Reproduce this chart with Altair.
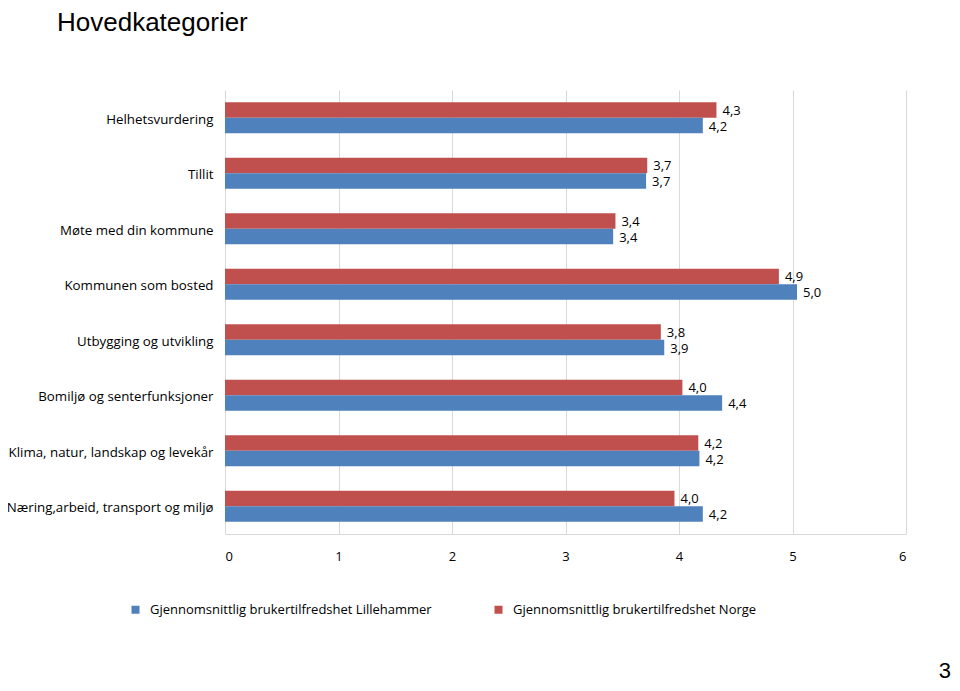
import altair as alt
import pandas as pd

categories = [
    "Helhetsvurdering",
    "Tillit",
    "Møte med din kommune",
    "Kommunen som bosted",
    "Utbygging og utvikling",
    "Bomiljø og senterfunksjoner",
    "Klima, natur, landskap og levekår",
    "Næring,arbeid, transport og miljø",
]
lillehammer = [4.21, 3.71, 3.42, 5.04, 3.87, 4.38, 4.18, 4.21]
norge = [4.33, 3.72, 3.44, 4.88, 3.84, 4.03, 4.17, 3.96]

s_lille = "Gjennomsnittlig brukertilfredshet Lillehammer"
s_norge = "Gjennomsnittlig brukertilfredshet Norge"

FONT = "Open Sans"

rows = []
for c, l, n in zip(categories, lillehammer, norge):
    rows.append({"kategori": c, "serie": s_norge, "verdi": n,
                 "tekst": f"{n:.1f}".replace(".", ",")})
    rows.append({"kategori": c, "serie": s_lille, "verdi": l,
                 "tekst": f"{l:.1f}".replace(".", ",")})
df = pd.DataFrame(rows)

y = alt.Y("kategori:N", sort=categories,
          scale=alt.Scale(paddingInner=0.44, paddingOuter=0.22),
          axis=alt.Axis(title=None, labelFontSize=13.3, labelColor="#000000",
                        labelFont=FONT, labelPadding=12, labelOffset=2,
                        ticks=False, domain=False, labelLimit=400))
yoff = alt.YOffset("serie:N", sort=[s_norge, s_lille],
                   scale=alt.Scale(paddingInner=0, paddingOuter=0))
x = alt.X("verdi:Q", scale=alt.Scale(domain=[0, 6], nice=False),
          axis=alt.Axis(title=None, values=[0, 1, 2, 3, 4, 5, 6], format="d",
                        labelFontSize=13, labelColor="#000000", labelFont=FONT,
                        labelPadding=16, ticks=False, domainColor="#d9d9d9",
                        gridColor="#d9d9d9"))
color = alt.Color("serie:N",
                  scale=alt.Scale(domain=[s_lille, s_norge],
                                  range=["#4F81BD", "#C0504D"]),
                  legend=alt.Legend(title=None, orient="none", direction="horizontal",
                                    legendX=-96, legendY=513, symbolType="square",
                                    symbolSize=64, symbolStrokeWidth=0,
                                    labelFontSize=13, labelFont=FONT,
                                    labelColor="#000000", labelOffset=8,
                                    columnPadding=60, labelLimit=500))

base = alt.Chart(df)
bars = base.mark_bar().encode(x=x, y=y, yOffset=yoff, color=color)
labels = base.mark_text(align="left", baseline="middle", dx=6, dy=1, fontSize=13,
                        font=FONT, color="#000000").encode(
    x="verdi:Q", y=y, yOffset=yoff, text="tekst:N")

title = alt.Chart(pd.DataFrame({"t": ["Hovedkategorier"]})).mark_text(
    align="left", baseline="top", fontSize=26, font="Liberation Sans", color="#000000"
).encode(x=alt.value(-168), y=alt.value(-80), text="t:N")

page = alt.Chart(pd.DataFrame({"t": ["3"]})).mark_text(
    align="right", baseline="bottom", fontSize=22, font="Liberation Sans", color="#000000"
).encode(x=alt.value(726), y=alt.value(593), text="t:N")

chart = alt.layer(bars, labels, title, page).properties(
    width=681, height=444,
    padding={"left": 217, "top": 82, "right": 46, "bottom": 149},
    autosize=alt.AutoSizeParams(type="none"),
).configure_view(stroke=None)

chart.save("out.html", embed_options={"renderer": "svg", "actions": False})
